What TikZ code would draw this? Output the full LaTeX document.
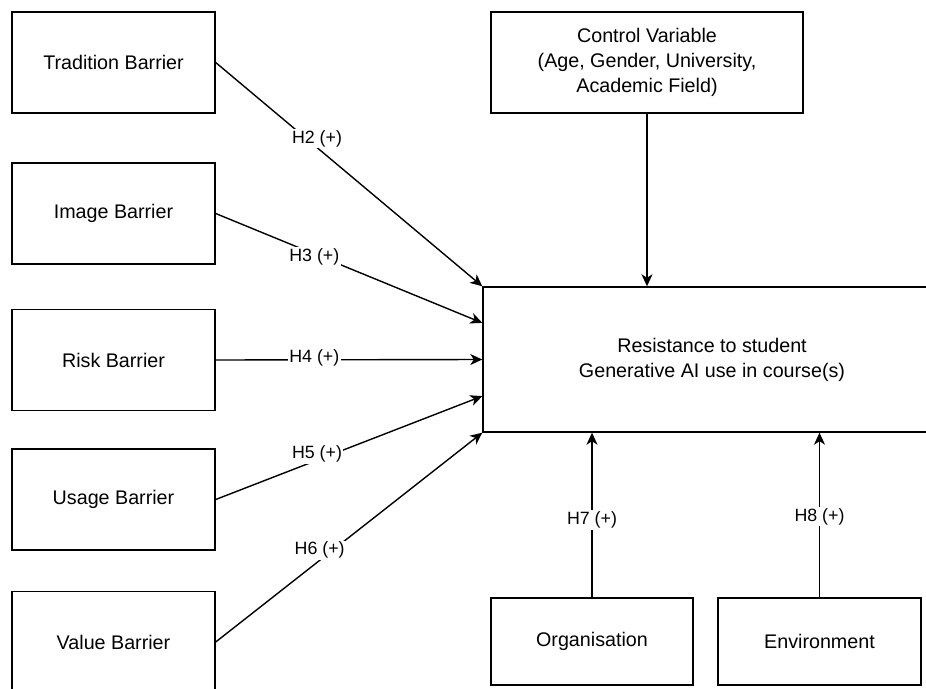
\documentclass[tikz,border=0pt]{standalone}
\usepackage{fontspec}
\setmainfont{Liberation Sans}
\usetikzlibrary{arrows.meta,calc}

\tikzset{
  box/.style={draw, line width=1.4pt, inner sep=0pt, align=center, font=\fontsize{19.7}{25}\selectfont},
  lbl/.style={fill=white, inner sep=1.5pt, font=\fontsize{17.8}{20}\selectfont},
  arr/.style={line width=1.4pt, -{Stealth[length=12pt, width=11pt, inset=3.5pt]}}
}

\begin{document}
\begin{tikzpicture}[x=1pt, y=-1pt]
\clip (0,0) rectangle (926,688);

% barriers
\foreach \n/\y/\t in {trad/62.5/Tradition Barrier, img/213.5/Image Barrier, risk/360/Risk Barrier, usage/499.5/Usage Barrier, val/642/Value Barrier} {
\node[box, minimum width=203pt, minimum height=101pt] (\n) at (113.5,\y) {\t};
}

\node[box, minimum width=312pt, minimum height=101pt] (ctrl) at (647,62.5) {Control Variable\\(Age, Gender, University,\\Academic Field)};
\node[box, minimum width=458pt, minimum height=145pt] (res) at (712,359.5) {Resistance to student\\Generative AI use in course(s)};
\node[box, minimum width=202pt, minimum height=87pt] (org) at (592,641.5) {Organisation};
\node[box, minimum width=203pt, minimum height=87pt] (env) at (819.5,641.5) {Environment};

\foreach \n/\f/\p/\s/\h in {trad/0/0.38/9/2, img/0.25/0.37/-3/3, risk/0.5/0.37/2/4, usage/0.75/0.38/6/5, val/1/0.39/10/6} {
\draw[arr] (\n.east) -- node[lbl, pos=\p, yshift=\s pt] {H\h{} (+)} ($(res.north west)!\f!(res.south west)$);
}

\draw[arr] (ctrl.south) -- (ctrl.south |- res.north);
\draw[arr] (org.north) -- node[lbl, pos=0.47] {H7 (+)} (org.north |- res.south);
\draw[arr] (env.north) -- node[lbl, pos=0.49] {H8 (+)} (env.north |- res.south);
\end{tikzpicture}
\end{document}
